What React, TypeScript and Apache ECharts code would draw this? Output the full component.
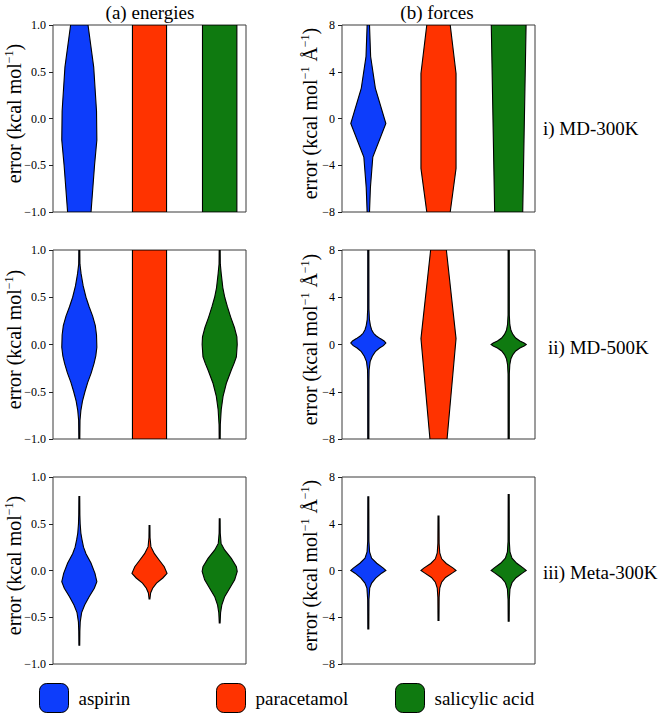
import React, { useEffect, useRef } from "react";
import * as echarts from "echarts";

const FONT = "'Liberation Serif', 'Times New Roman', serif";

const molecules = ["aspirin", "paracetamol", "salicylic acid"];
const colors = ["#0d3dfb", "#ff3300", "#0f7a10"];
const positions = [1, 2, 3];

const energyTicks = { min: -1, max: 1, interval: 0.5 };
const forceTicks = { min: -8, max: 8, interval: 4 };

const rowLabels = ["i) MD-300K", "ii) MD-500K", "iii) Meta-300K"];
const colTitles = ["(a) energies", "(b) forces"];

// violin profiles: [error value, half width in position units]
const e300Aspirin = [[1.0, 0.124], [0.55, 0.205], [0.08, 0.245], [-0.23, 0.25], [-0.5, 0.217], [-1.0, 0.167]];
const e300Paracetamol = [[1.0, 0.243], [-1.0, 0.243]];
const e300Salicylic = [[1.0, 0.245], [-1.0, 0.245]];

const f300Aspirin = [[8, 0.017], [5.3, 0.033], [2.6, 0.1], [-0.43, 0.25], [-3.3, 0.064], [-5.9, 0.03], [-8, 0.017]];
const f300Paracetamol = [[8, 0.167], [3.85, 0.25], [-4.27, 0.25], [-8, 0.167]];
const f300Salicylic = [[8, 0.248], [-8, 0.2]];

const e500Aspirin = [[1.0, 0.007], [0.85, 0.009], [0.75, 0.025], [0.62, 0.055], [0.5, 0.095], [0.4, 0.14], [0.3, 0.19], [0.2, 0.228], [0.1, 0.245], [-0.03, 0.25], [-0.12, 0.235], [-0.2, 0.21], [-0.3, 0.17], [-0.4, 0.12], [-0.5, 0.08], [-0.6, 0.045], [-0.7, 0.022], [-0.8, 0.01], [-1.0, 0.007]];
const e500Paracetamol = [[1.0, 0.243], [-1.0, 0.243]];
const e500Salicylic = [[1.0, 0.007], [0.85, 0.009], [0.75, 0.022], [0.6, 0.045], [0.5, 0.072], [0.4, 0.11], [0.29, 0.157], [0.18, 0.21], [0.08, 0.245], [0.0, 0.25], [-0.13, 0.238], [-0.2, 0.205], [-0.27, 0.166], [-0.41, 0.095], [-0.55, 0.048], [-0.69, 0.022], [-0.85, 0.009], [-1.0, 0.007]];

const f500Aspirin = [[8, 0.008], [3, 0.009], [2.1, 0.016], [1.6, 0.03], [1.25, 0.047], [0.95, 0.075], [0.74, 0.11], [0.5, 0.17], [0.3, 0.225], [0.12, 0.25], [-0.1, 0.215], [-0.3, 0.16], [-0.6, 0.1], [-1.0, 0.057], [-1.45, 0.026], [-2.15, 0.011], [-3, 0.009], [-8, 0.008]];
const f500Paracetamol = [[8, 0.112], [0.5, 0.25], [-8, 0.122]];
const f500Salicylic = [[8, 0.008], [2.5, 0.009], [1.7, 0.016], [1.2, 0.032], [0.85, 0.06], [0.55, 0.1], [0.3, 0.16], [0.12, 0.22], [0, 0.25], [-0.12, 0.22], [-0.3, 0.16], [-0.55, 0.1], [-0.85, 0.06], [-1.2, 0.032], [-1.7, 0.016], [-2.5, 0.009], [-8, 0.008]];

const eMetaAspirin = [[0.79, 0.006], [0.6, 0.008], [0.5, 0.012], [0.4, 0.022], [0.33, 0.038], [0.25, 0.06], [0.18, 0.095], [0.08, 0.166], [-0.03, 0.223], [-0.12, 0.25], [-0.19, 0.214], [-0.28, 0.14], [-0.37, 0.076], [-0.45, 0.033], [-0.55, 0.013], [-0.65, 0.008], [-0.8, 0.006]];
const eMetaParacetamol = [[0.48, 0.006], [0.35, 0.008], [0.255, 0.02], [0.18, 0.07], [0.11, 0.14], [0.04, 0.21], [-0.03, 0.25], [-0.08, 0.19], [-0.135, 0.1], [-0.19, 0.045], [-0.24, 0.016], [-0.305, 0.006]];
const eMetaSalicylic = [[0.553, 0.006], [0.4, 0.008], [0.29, 0.02], [0.22, 0.07], [0.13, 0.166], [0.04, 0.238], [-0.01, 0.25], [-0.1, 0.214], [-0.19, 0.143], [-0.28, 0.071], [-0.37, 0.03], [-0.45, 0.013], [-0.56, 0.006]];

const fMetaAspirin = [[6.3, 0.007], [2.5, 0.009], [1.6, 0.018], [1.05, 0.047], [0.62, 0.12], [0.2, 0.214], [0, 0.25], [-0.23, 0.19], [-0.65, 0.105], [-1.08, 0.048], [-1.5, 0.02], [-2.5, 0.009], [-5.0, 0.007]];
const fMetaParacetamol = [[4.65, 0.007], [2.3, 0.009], [1.5, 0.018], [1.0, 0.045], [0.6, 0.11], [0.2, 0.21], [0, 0.25], [-0.2, 0.2], [-0.6, 0.1], [-1.0, 0.045], [-1.5, 0.018], [-2.3, 0.009], [-4.28, 0.007]];
const fMetaSalicylic = [[6.5, 0.007], [2.5, 0.009], [1.6, 0.018], [1.05, 0.047], [0.62, 0.115], [0.2, 0.21], [0, 0.25], [-0.2, 0.2], [-0.62, 0.105], [-1.05, 0.047], [-1.6, 0.018], [-2.5, 0.009], [-4.34, 0.007]];

const panelProfiles = [
  [e300Aspirin, e300Paracetamol, e300Salicylic],
  [f300Aspirin, f300Paracetamol, f300Salicylic],
  [e500Aspirin, e500Paracetamol, e500Salicylic],
  [f500Aspirin, f500Paracetamol, f500Salicylic],
  [eMetaAspirin, eMetaParacetamol, eMetaSalicylic],
  [fMetaAspirin, fMetaParacetamol, fMetaSalicylic],
];

const colLeft = [53, 342];
const colWidth = 193;
const rowTop = [25, 250, 477];
const rowHeight = [187, 189, 187];
const legendLeft = [39, 216, 395];

function fmt(v: number, digits: number) {
  return v.toFixed(digits).replace("-", "\u2212");
}

export default function App() {
  const ref = useRef<HTMLDivElement>(null);
  useEffect(() => {
    if (!ref.current) return;
    const chart = echarts.init(ref.current, null, { renderer: "svg" });
    const grids: any[] = [];
    const xAxes: any[] = [];
    const yAxes: any[] = [];
    const series: any[] = [];
    panelProfiles.forEach((profiles, i) => {
      const row = Math.floor(i / 2);
      const col = i % 2;
      const ticks = col === 0 ? energyTicks : forceTicks;
      grids.push({
        left: colLeft[col],
        top: rowTop[row],
        width: colWidth,
        height: rowHeight[row],
        show: true,
        borderColor: "#3a3a3a",
        borderWidth: 1,
        backgroundColor: "transparent",
      });
      xAxes.push({ type: "value", gridIndex: i, min: 0.625, max: 3.375, show: false });
      yAxes.push({
        type: "value",
        gridIndex: i,
        min: ticks.min,
        max: ticks.max,
        interval: ticks.interval,
        axisLine: { show: false },
        splitLine: { show: false },
        axisTick: { show: true, inside: false, length: 4, lineStyle: { color: "#222", width: 1 } },
        axisLabel: {
          fontFamily: FONT,
          fontSize: 12,
          color: "#000",
          margin: 7,
          formatter: (v: number) => fmt(v, col === 0 ? 1 : 0),
        },
      });
      profiles.forEach((profile, j) => {
        const pos = positions[j];
        const color = colors[j];
        series.push({
          type: "custom",
          name: molecules[j],
          xAxisIndex: i,
          yAxisIndex: i,
          clip: true,
          itemStyle: { color },
          data: [[pos, 0]],
          renderItem: (_params: any, api: any) => {
            const left = profile.map(([y, hw]) => api.coord([pos - hw, y]));
            const right = profile
              .slice()
              .reverse()
              .map(([y, hw]) => api.coord([pos + hw, y]));
            return {
              type: "polygon",
              shape: { points: left.concat(right) },
              style: { fill: color, stroke: "#000", lineWidth: 1.1 },
            };
          },
        });
      });
    });

    const graphics: any[] = [];
    graphics.push({
      type: "text",
      x: 150,
      y: 12,
      style: { text: colTitles[0], fontFamily: FONT, fontSize: 19, fill: "#000", textAlign: "center", textVerticalAlign: "middle" },
    });
    graphics.push({
      type: "text",
      x: 437,
      y: 12,
      style: { text: colTitles[1], fontFamily: FONT, fontSize: 19, fill: "#000", textAlign: "center", textVerticalAlign: "middle" },
    });
    const rowLabelX = [543, 548, 543];
    const rowLabelY = [128, 347, 572];
    rowLabels.forEach((t, r) => {
      graphics.push({
        type: "text",
        x: rowLabelX[r],
        y: rowLabelY[r],
        style: { text: t, fontFamily: FONT, fontSize: 19, fill: "#000", textAlign: "left", textVerticalAlign: "middle" },
      });
    });
    const rich = {
      n: { fontFamily: FONT, fontSize: 20, lineHeight: 22, fill: "#000" },
      s: { fontFamily: FONT, fontSize: 12, lineHeight: 13, verticalAlign: "top", fill: "#000" },
    };
    rowTop.forEach((top, r) => {
      const cy = top + rowHeight[r] / 2 - 5;
      graphics.push({
        type: "text",
        x: 14,
        y: cy,
        rotation: Math.PI / 2,
        style: {
          text: "{n|error (kcal mol}{s|\u22121}{n|)}",
          rich,
          fill: "#000",
          textAlign: "center",
          textVerticalAlign: "middle",
        },
      });
      graphics.push({
        type: "text",
        x: 310,
        y: cy,
        rotation: Math.PI / 2,
        style: {
          text: "{n|error (kcal mol}{s|\u22121}{n| \u00c5}{s|\u22121}{n|)}",
          rich,
          fill: "#000",
          textAlign: "center",
          textVerticalAlign: "middle",
        },
      });
    });

    const legends = molecules.map((m, j) => ({
      data: [m],
      left: legendLeft[j],
      top: 683,
      padding: 0,
      itemWidth: 29,
      itemHeight: 29,
      icon: "roundRect",
      selectedMode: false,
      itemStyle: { borderColor: "#000", borderWidth: 1 },
      textStyle: { fontFamily: FONT, fontSize: 19, color: "#000", padding: [0, 0, 0, 5] },
    }));

    chart.setOption({
      animation: false,
      backgroundColor: "#fff",
      grid: grids,
      xAxis: xAxes,
      yAxis: yAxes,
      series,
      legend: legends,
      graphic: graphics,
    });
    return () => chart.dispose();
  }, []);
  return (
    <div
      ref={ref}
      style={{ position: "absolute", left: 0, top: 0, width: 661, height: 715 }}
    />
  );
}
